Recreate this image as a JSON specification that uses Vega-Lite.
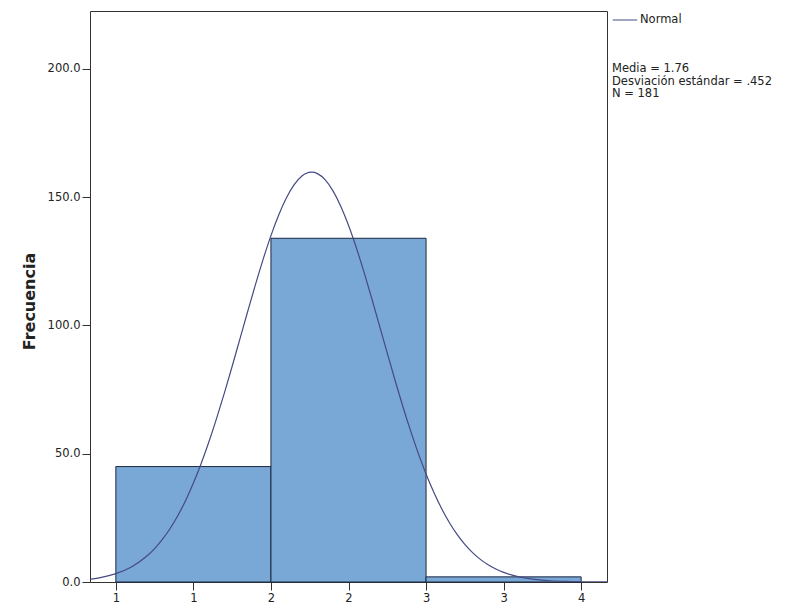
{
  "$schema": "https://vega.github.io/schema/vega-lite/v6.json",
  "autosize": {"type": "none"},
  "padding": {"left": 90, "top": 11, "right": 188, "bottom": 25},
  "width": 517,
  "height": 571,
  "background": "white",
  "config": {
    "font": "DejaVu Sans",
    "view": {"stroke": "#333333", "strokeWidth": 1},
    "axis": {"grid": false, "domain": false, "tickColor": "#333333", "tickSize": 8, "labelFontSize": 11.5, "labelColor": "#222222", "labelFont": "DejaVu Sans"}
  },
  "datasets": {
    "bins": [
      {"inicio": 0.5, "fin": 1.5, "frecuencia": 45},
      {"inicio": 1.5, "fin": 2.5, "frecuencia": 134},
      {"inicio": 2.5, "fin": 3.5, "frecuencia": 2}
    ],
    "curva": [
      {"x": 0.34, "y": 1.13, "serie": "Normal"},
      {"x": 0.4, "y": 1.7, "serie": "Normal"},
      {"x": 0.5, "y": 3.24, "serie": "Normal"},
      {"x": 0.6, "y": 5.86, "serie": "Normal"},
      {"x": 0.7, "y": 10.11, "serie": "Normal"},
      {"x": 0.75, "y": 13.03, "serie": "Normal"},
      {"x": 0.8, "y": 16.59, "serie": "Normal"},
      {"x": 0.85, "y": 20.86, "serie": "Normal"},
      {"x": 0.9, "y": 25.93, "serie": "Normal"},
      {"x": 0.95, "y": 31.81, "serie": "Normal"},
      {"x": 1.0, "y": 38.58, "serie": "Normal"},
      {"x": 1.05, "y": 46.2, "serie": "Normal"},
      {"x": 1.1, "y": 54.65, "serie": "Normal"},
      {"x": 1.15, "y": 63.88, "serie": "Normal"},
      {"x": 1.2, "y": 73.74, "serie": "Normal"},
      {"x": 1.25, "y": 84.11, "serie": "Normal"},
      {"x": 1.3, "y": 94.75, "serie": "Normal"},
      {"x": 1.35, "y": 105.45, "serie": "Normal"},
      {"x": 1.4, "y": 115.92, "serie": "Normal"},
      {"x": 1.45, "y": 125.88, "serie": "Normal"},
      {"x": 1.5, "y": 135.05, "serie": "Normal"},
      {"x": 1.55, "y": 143.1, "serie": "Normal"},
      {"x": 1.6, "y": 149.81, "serie": "Normal"},
      {"x": 1.65, "y": 154.93, "serie": "Normal"},
      {"x": 1.7, "y": 158.25, "serie": "Normal"},
      {"x": 1.725, "y": 159.22, "serie": "Normal"},
      {"x": 1.762, "y": 159.75, "serie": "Normal"},
      {"x": 1.8, "y": 159.19, "serie": "Normal"},
      {"x": 1.85, "y": 156.75, "serie": "Normal"},
      {"x": 1.9, "y": 152.49, "serie": "Normal"},
      {"x": 1.95, "y": 146.51, "serie": "Normal"},
      {"x": 2.0, "y": 139.08, "serie": "Normal"},
      {"x": 2.05, "y": 130.4, "serie": "Normal"},
      {"x": 2.1, "y": 120.79, "serie": "Normal"},
      {"x": 2.15, "y": 110.51, "serie": "Normal"},
      {"x": 2.2, "y": 99.89, "serie": "Normal"},
      {"x": 2.25, "y": 89.21, "serie": "Normal"},
      {"x": 2.3, "y": 78.66, "serie": "Normal"},
      {"x": 2.35, "y": 68.53, "serie": "Normal"},
      {"x": 2.4, "y": 58.99, "serie": "Normal"},
      {"x": 2.45, "y": 50.16, "serie": "Normal"},
      {"x": 2.5, "y": 42.13, "serie": "Normal"},
      {"x": 2.55, "y": 34.95, "serie": "Normal"},
      {"x": 2.6, "y": 28.64, "serie": "Normal"},
      {"x": 2.65, "y": 23.19, "serie": "Normal"},
      {"x": 2.7, "y": 18.55, "serie": "Normal"},
      {"x": 2.75, "y": 14.65, "serie": "Normal"},
      {"x": 2.8, "y": 11.43, "serie": "Normal"},
      {"x": 2.85, "y": 8.82, "serie": "Normal"},
      {"x": 2.9, "y": 6.72, "serie": "Normal"},
      {"x": 2.95, "y": 5.05, "serie": "Normal"},
      {"x": 3.0, "y": 3.75, "serie": "Normal"},
      {"x": 3.05, "y": 2.76, "serie": "Normal"},
      {"x": 3.1, "y": 2.0, "serie": "Normal"},
      {"x": 3.2, "y": 1.01, "serie": "Normal"},
      {"x": 3.3, "y": 0.49, "serie": "Normal"},
      {"x": 3.4, "y": 0.22, "serie": "Normal"},
      {"x": 3.5, "y": 0.1, "serie": "Normal"},
      {"x": 3.6, "y": 0.04, "serie": "Normal"},
      {"x": 3.666, "y": 0.02, "serie": "Normal"}
    ]
  },
  "layer": [
    {
      "data": {"name": "bins"},
      "mark": {"type": "rect", "fill": "#79a8d6", "stroke": "#1c2840", "strokeWidth": 1},
      "encoding": {
        "x": {"field": "inicio", "type": "quantitative", "scale": {"domain": [0.3333, 3.6667], "nice": false, "zero": false},
              "axis": {"values": [0.5, 1, 1.5, 2, 2.5, 3, 3.5], "labelExpr": "'' + round(datum.value)", "title": null, "labelPadding": 2}},
        "x2": {"field": "fin"},
        "y": {"field": "frecuencia", "type": "quantitative", "scale": {"domain": [0, 222.6], "nice": false},
              "axis": {"values": [0, 50, 100, 150, 200], "format": ".1f", "title": "Frecuencia", "titleFontSize": 16, "titleFontWeight": "bold", "titleColor": "#222222", "titleFont": "DejaVu Sans", "titlePadding": 10, "titleY": 290, "labelPadding": 2}},
        "y2": {"datum": 0}
      }
    },
    {
      "data": {"name": "curva"},
      "mark": {"type": "line", "strokeWidth": 1.2, "clip": true, "interpolate": "monotone"},
      "encoding": {
        "x": {"field": "x", "type": "quantitative"},
        "y": {"field": "y", "type": "quantitative"},
        "stroke": {"field": "serie", "type": "nominal", "scale": {"range": ["#454a82"]},
          "legend": {"orient": "none", "legendX": 522, "legendY": -4, "symbolType": "stroke", "symbolSize": 600, "symbolStrokeWidth": 1, "labelFontSize": 11.5, "labelColor": "#222222", "labelFont": "DejaVu Sans", "labelOffset": 2,
                     "title": ["Media = 1.76", "Desviación estándar = .452", "N = 181"], "titleOrient": "bottom", "titleFontWeight": "normal", "titleFontSize": 11.5, "titleColor": "#222222", "titleFont": "DejaVu Sans", "titlePadding": 37, "titleLineHeight": 12.5, "titleAnchor": "start", "titleAlign": "left"}}
      }
    }
  ]
}
